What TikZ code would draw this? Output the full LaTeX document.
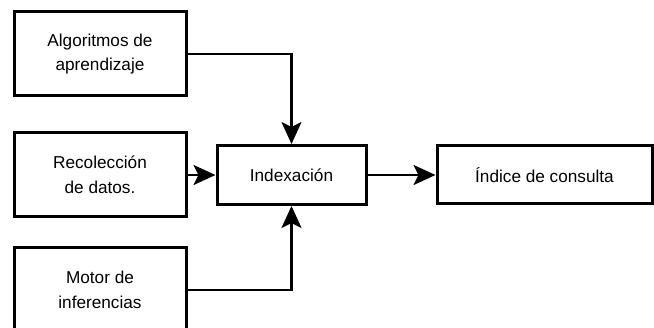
\documentclass[tikz,border=0pt]{standalone}
\usepackage{fontspec}
\setmainfont{Liberation Sans}
\usetikzlibrary{arrows.meta}
\begin{document}
\begin{tikzpicture}[x=1pt,y=-1pt,
  box/.style={draw=black,line width=3pt,fill=white,align=center,inner sep=0pt,
    font=\fontsize{17.2}{24.5}\selectfont},
  conn/.style={line width=2.6pt,-{Stealth[length=22pt,width=20pt,inset=5pt]}}]
\useasboundingbox (0,0) rectangle (654,328);
\node[box,minimum width=172pt,minimum height=84pt] (alg) at (100,54) {Algoritmos de\\aprendizaje};
\node[box,minimum width=172pt,minimum height=84pt] (rec) at (100,175) {Recolección\\de datos.};
\node[box,minimum width=172pt,minimum height=84pt] (mot) at (100,290) {Motor de\\inferencias};
\node[box,minimum width=149pt,minimum height=59pt] (idx) at (291.5,175) {Indexación};
\node[box,minimum width=215pt,minimum height=58pt] (ind) at (544.5,175) {Índice de consulta};
\draw[conn] (alg.east) -| (idx.north);
\draw[conn] (rec.east) -- (idx.west);
\draw[conn] (mot.east) -| (idx.south);
\draw[conn] (idx.east) -- (ind.west);
\end{tikzpicture}
\end{document}
